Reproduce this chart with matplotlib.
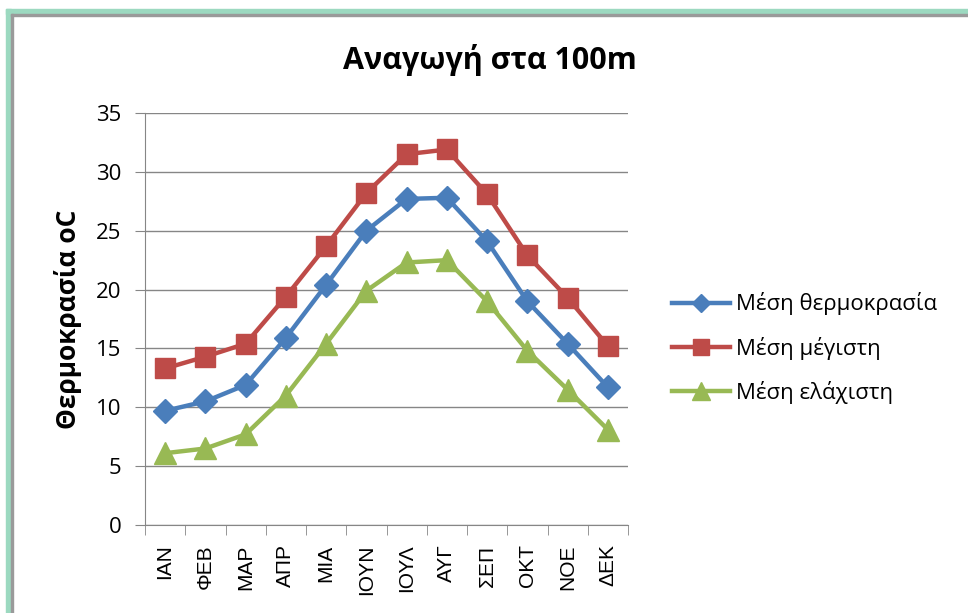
import matplotlib
matplotlib.use("Agg")
import matplotlib.pyplot as plt
import numpy as np
from matplotlib.patches import Rectangle

# data
months = ['ΙΑΝ', 'ΦΕΒ', 'ΜΑΡ', 'ΑΠΡ', 'ΜΙΑ', 'ΙΟΥΝ', 'ΙΟΥΛ', 'ΑΥΓ', 'ΣΕΠ', 'ΟΚΤ', 'ΝΟΕ', 'ΔΕΚ']
t_mean = [9.7, 10.5, 11.9, 15.9, 20.4, 25.0, 27.7, 27.8, 24.1, 19.0, 15.4, 11.7]
t_max = [13.3, 14.3, 15.4, 19.4, 23.7, 28.2, 31.5, 31.9, 28.1, 22.9, 19.3, 15.2]
t_min = [6.1, 6.5, 7.7, 11.0, 15.4, 19.9, 22.3, 22.5, 19.0, 14.8, 11.5, 8.1]
labels = ['Μέση θερμοκρασία', 'Μέση μέγιστη', 'Μέση ελάχιστη']

fig = plt.figure(figsize=(9.68, 6.13), dpi=100)

# outer frame (teal strip + grey line on top and left)
fig.patches.append(Rectangle((6/968, 0), 5/968, 1 - 9/613, transform=fig.transFigure, color='#9cd9c0', zorder=0))
fig.patches.append(Rectangle((6/968, 1 - 14/613), 1 - 6/968, 5/613, transform=fig.transFigure, color='#9cd9c0', zorder=0))
fig.patches.append(Rectangle((11/968, 0), 2/968, 1 - 14/613, transform=fig.transFigure, color='#9a9a9a', zorder=0))
fig.patches.append(Rectangle((11/968, 1 - 15.5/613), 1, 1.5/613, transform=fig.transFigure, color='#9a9a9a', zorder=0))

ax = fig.add_axes([145/968, 1 - 525/613, 483/968, 412/613])
x = np.arange(len(months))

ax.plot(x, t_mean, color='#4a7ebb', lw=3.2, marker='D', ms=12, label=labels[0], zorder=3)
ax.plot(x, t_max, color='#be4b48', lw=3.2, marker='s', ms=14, label=labels[1], zorder=3)
ax.plot(x, t_min, color='#98b954', lw=3.2, marker='^', ms=16, label=labels[2], zorder=3)

ax.set_xlim(-0.5, 11.5)
ax.set_ylim(0, 35)
ax.set_yticks(range(0, 36, 5))
ax.set_xticks(x)
ax.set_xticklabels(months, rotation=90, fontsize=15, family='Liberation Sans')
ax.set_xticks(np.arange(-0.5, 12, 1), minor=True)
ax.tick_params(axis='x', which='major', length=0, pad=14)
ax.tick_params(axis='x', which='minor', length=7, color='#868686', direction='out')
ax.tick_params(axis='y', length=7, color='#868686', labelsize=16, pad=10)
for lab in ax.get_yticklabels():
    lab.set_family('Open Sans')

ax.grid(axis='y', color='#868686', lw=1)
ax.set_axisbelow(True)
for s in ['top', 'right']:
    ax.spines[s].set_visible(False)
for s in ['left', 'bottom']:
    ax.spines[s].set_color('#868686')

ax.set_ylabel('Θερμοκρασία oC', fontsize=19, fontweight='bold', family='Open Sans', labelpad=10)
fig.text(490/968, 1 - 60/613, 'Αναγωγή στα 100m', ha='center', va='center',
         fontsize=22, fontweight='bold', family='Open Sans')

ax.legend(loc='center left', bbox_to_anchor=(652/968, 1 - 348/613), bbox_transform=fig.transFigure,
          frameon=False, prop={'family': 'Open Sans', 'size': 16}, handlelength=2.6,
          labelspacing=0.95, handletextpad=0.3, markerscale=0.8)

fig.savefig('out.png', dpi=100)
